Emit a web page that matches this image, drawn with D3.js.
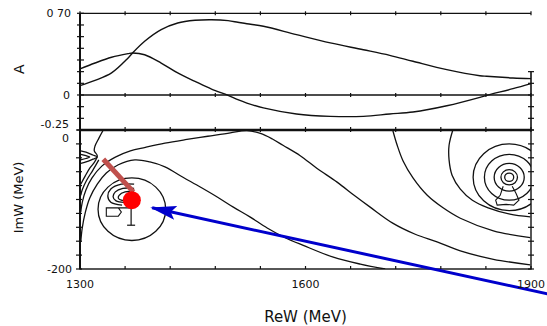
<!DOCTYPE html>
<html>
<head>
<meta charset="utf-8">
<script src="https://cdn.jsdelivr.net/npm/d3@7"></script>
<style>
  body { margin: 0; background: #fff; }
  svg { display: block; font-family: "DejaVu Sans", sans-serif; }
</style>
</head>
<body>
<svg id="chart" width="547" height="326"></svg>
<script>
// ---- top panel: A vs ReW (two curves on one ReW grid)
let reGrid = [1300, 1320, 1342, 1364, 1370, 1386, 1408, 1430, 1453, 1475, 1497, 1510, 1522,
              1544, 1588, 1633, 1677, 1712, 1743, 1788, 1832, 1841, 1876, 1900];
let ampOne = [0.080, 0.125, 0.189, 0.317, 0.360, 0.460, 0.560, 0.617, 0.640, 0.645, 0.637, 0.623, 0.610,
              0.589, 0.517, 0.446, 0.388, 0.340, 0.289, 0.217, 0.165, 0.160, 0.146, 0.140];
let ampTwo = [0.223, 0.274, 0.323, 0.354, 0.360, 0.345, 0.274, 0.189, 0.117, 0.051, -0.003, -0.040, -0.069,
              -0.111, -0.163, -0.183, -0.183, -0.163, -0.146, -0.092, -0.020, -0.003, 0.054, 0.097];

// ---- bottom panel: contour lines, [ReW, ImW] in MeV
let contourP = [[1301,-118],[1303,-104],[1308,-86],[1316,-69],[1329,-52],[1347,-39],[1367,-30],[1387,-25],
                [1413,-19],[1440,-14],[1470,-9],[1500,-4],[1522,-1],[1540,-5],[1556,-13],[1570,-22],[1593,-37],
                [1615,-55],[1642,-75],[1666,-95],[1686,-111],[1716,-134],[1746,-150],[1775,-161],
                [1806,-174],[1850,-186],[1899,-194]];
let contourQ = [[1301,-161],[1303,-141],[1307,-119],[1313,-98],[1323,-78],[1335,-62],[1351,-50],[1373,-43],
                [1393,-46],[1413,-53],[1437,-68],[1460,-82],[1482,-96],[1504,-111],[1526,-125],[1549,-141],
                [1573,-155],[1597,-166],[1637,-183],[1673,-193],[1706,-200]];
let contourR = [[1716,0],[1722,-22],[1730,-45],[1743,-69],[1762,-94],[1783,-112],[1806,-127],[1850,-145],[1899,-155]];
let contourS = [[1796,0],[1791,-22],[1791,-43],[1795,-65],[1806,-85],[1822,-101],[1843,-112],[1872,-121],[1899,-125]];
let contourL1 = [[1331,0],[1325,-12],[1320,-23],[1319,-30],[1323,-37],[1320,-45],[1313,-55],[1307,-66],[1301,-78]];
let contourL2 = [[1325,-43],[1317,-58],[1309,-72],[1303,-86],[1301,-94]];
let lensOuter = [[1301,-30],[1308,-32],[1317,-36],[1323,-39],[1317,-42],[1308,-46],[1301,-48]];
let lensInner = [[1301,-35],[1308,-37],[1313,-39],[1308,-41],[1301,-43]];
let loopOne = [[1372,-78],[1355,-78],[1341,-85],[1337,-95],[1341,-104],[1356,-108]];
let loopTwo = [[1372,-84],[1357,-84],[1347,-89],[1344,-96],[1348,-102],[1359,-104]];
let loopThree = [[1372,-89],[1360,-89],[1352,-94],[1351,-98],[1355,-101],[1361,-101]];
let stepShape = [[1368,-112],[1335,-112],[1335,-124],[1351,-124],[1355,-118],[1351,-112]];
let cuspShape = [[1863,-81],[1859,-94],[1853,-101],[1855,-108],[1867,-107],[1877,-108],[1884,-101],[1880,-91],[1875,-81]];

// closed rings round the two poles
let leftRing = {re: 1369, im: -114, r: 45};
let rightCenter = {re: 1871, im: -68};
let rightRadii = [48, 33, 20, 11, 6];

// marks laid over the plot
let errorBar = {re: 1368, lo: -137, hi: -112};
let redDot = {re: 1369, im: -101};
let brownBar = [[1331,-42],[1371,-89]];
let blueArrow = [[1940,-240],[1396,-112]];

let reTicks = d3.range(1300, 1901, 60);
let aTicks = d3.range(-3, 8).map(d => d / 10);
let imTicks = d3.range(-200, 1, 20);

/***************************/

let svg = d3.select("#chart");

let x = d3.scaleLinear().domain([1300, 1900]).range([80, 531]);
let yA = d3.scaleLinear().domain([-0.3, 0.7]).range([130, 13.3]);
let yI = d3.scaleLinear().domain([-200, 0]).range([269, 130]);

let ink = "#111";

function hline(g, y0, x0, x1, w) {
  g.append("line").attr("x1", x0).attr("x2", x1).attr("y1", y0).attr("y2", y0)
    .attr("stroke", ink).attr("stroke-width", w || 1.3);
}
function vline(g, x0, y0, y1, w) {
  g.append("line").attr("x1", x0).attr("x2", x0).attr("y1", y0).attr("y2", y1)
    .attr("stroke", ink).attr("stroke-width", w || 1.3);
}

let frame = svg.append("g").attr("class", "frame");

// top panel frame
hline(frame, yA(0.7), x(1300), x(1900));
vline(frame, x(1300), yA(0.7), yA(-0.3), 2);
hline(frame, yA(0), x(1300), x(1900));
vline(frame, x(1900), yA(0.2), yA(-0.3), 1.6);

reTicks.forEach(t => {
  vline(frame, x(t), yA(0.7) - 2, yA(0.7) + 2, 1.2);
  vline(frame, x(t), yA(0) - 2, yA(0) + 2, 1.2);
  vline(frame, x(t), yI(0) - 3, yI(0) + 2, 1.2);
  vline(frame, x(t), yI(-200) - 3, yI(-200), 1.2);
});
aTicks.forEach(t => {
  hline(frame, yA(t), x(1300) - 3, x(1300) + 4, 1.2);
  if (t <= 0.2) hline(frame, yA(t), x(1900) - 3, x(1900) + 3, 1.2);
});

// bottom panel frame
frame.append("rect").attr("x", x(1300)).attr("y", yI(0))
  .attr("width", x(1900) - x(1300)).attr("height", yI(-200) - yI(0))
  .attr("fill", "none").attr("stroke", ink).attr("stroke-width", 1.4);
hline(frame, yI(0), x(1300), x(1900), 2.4);
vline(frame, x(1300), yI(0), yI(-200), 2);
imTicks.forEach(t => {
  hline(frame, yI(t), x(1300) - 4, x(1300) + 2, 1.2);
  hline(frame, yI(t), x(1900) - 3, x(1900) + 3, 1.2);
});

// top panel curves
let lineA = d3.line().x((d, i) => x(reGrid[i])).y(d => yA(d)).curve(d3.curveCatmullRom.alpha(0.5));
[ampOne, ampTwo].forEach(s => {
  svg.append("path").attr("d", lineA(s)).attr("fill", "none")
    .attr("stroke", ink).attr("stroke-width", 1.4);
});

// bottom panel contours
svg.append("clipPath").attr("id", "clipI").append("rect")
  .attr("x", x(1300)).attr("y", yI(0))
  .attr("width", x(1900) - x(1300)).attr("height", yI(-200) - yI(0));

let plotI = svg.append("g").attr("clip-path", "url(#clipI)");
let lineI = d3.line().x(d => x(d[0])).y(d => yI(d[1])).curve(d3.curveCatmullRom.alpha(0.5));

[contourP, contourQ, contourR, contourS, contourL1, contourL2, lensOuter, lensInner,
 loopOne, loopTwo, loopThree].forEach(c => {
  plotI.append("path").attr("d", lineI(c)).attr("fill", "none")
    .attr("stroke", ink).attr("stroke-width", 1.3);
});
[stepShape, cuspShape].forEach(c => {
  plotI.append("path").attr("d", d3.line().x(d => x(d[0])).y(d => yI(d[1]))(c))
    .attr("fill", "none").attr("stroke", ink).attr("stroke-width", 1.1);
});

function ring(cx, cy, r) {
  plotI.append("ellipse").attr("cx", x(cx)).attr("cy", yI(cy))
    .attr("rx", x(cx + r) - x(cx)).attr("ry", yI(cy - r) - yI(cy))
    .attr("fill", "none").attr("stroke", ink).attr("stroke-width", 1.3);
}
ring(leftRing.re, leftRing.im, leftRing.r);
rightRadii.forEach(r => ring(rightCenter.re, rightCenter.im, r));

// error bar
vline(plotI, x(errorBar.re), yI(errorBar.hi), yI(errorBar.lo), 1.2);
hline(plotI, yI(errorBar.lo), x(errorBar.re) - 4, x(errorBar.re) + 4, 1.2);

// overlays
svg.append("line")
  .attr("x1", x(brownBar[0][0])).attr("y1", yI(brownBar[0][1]))
  .attr("x2", x(brownBar[1][0])).attr("y2", yI(brownBar[1][1]))
  .attr("stroke", "#c0504d").attr("stroke-width", 5);

svg.append("circle").attr("cx", x(redDot.re)).attr("cy", yI(redDot.im)).attr("r", 9)
  .attr("fill", "#ff0000");

svg.append("defs").append("marker").attr("id", "head")
  .attr("markerUnits", "userSpaceOnUse")
  .attr("markerWidth", 26).attr("markerHeight", 14)
  .attr("refX", 24).attr("refY", 7).attr("orient", "auto")
  .append("path").attr("d", "M0,0 L26,7 L0,14 L5,7 Z").attr("fill", "#0000cc");

svg.append("line")
  .attr("x1", x(blueArrow[0][0])).attr("y1", yI(blueArrow[0][1]))
  .attr("x2", x(blueArrow[1][0])).attr("y2", yI(blueArrow[1][1]))
  .attr("stroke", "#0000cc").attr("stroke-width", 3)
  .attr("marker-end", "url(#head)");

// text
let txt = svg.append("g").attr("fill", ink);
txt.append("text").attr("x", 71).attr("y", yA(0.7) + 4).attr("text-anchor", "end")
  .attr("font-size", 11).text("0 70");
txt.append("text").attr("x", 70).attr("y", yA(0) + 4).attr("text-anchor", "end")
  .attr("font-size", 11).text("0");
txt.append("text").attr("x", 69).attr("y", yA(-0.25) + 4).attr("text-anchor", "end")
  .attr("font-size", 11).text("-0.25");
txt.append("text").attr("x", 69).attr("y", yI(0) + 12).attr("text-anchor", "end")
  .attr("font-size", 11).text("0");
txt.append("text").attr("x", 72).attr("y", yI(-200) + 4).attr("text-anchor", "end")
  .attr("font-size", 11).text("-200");
txt.append("text").attr("transform", `translate(24, ${yA(0.22)}) rotate(-90)`)
  .attr("text-anchor", "middle").attr("font-size", 14).text("A");
txt.append("text").attr("transform", `translate(23, ${yI(-97)}) rotate(-90)`)
  .attr("text-anchor", "middle").attr("font-size", 13).text("ImW (MeV)");
[1300, 1600, 1900].forEach(t => {
  txt.append("text").attr("x", x(t)).attr("y", 288).attr("text-anchor", "middle")
    .attr("font-size", 11).text(t);
});
txt.append("text").attr("x", x(1600)).attr("y", 322).attr("text-anchor", "middle")
  .attr("font-size", 15).text("ReW (MeV)");
</script>
</body>
</html>
